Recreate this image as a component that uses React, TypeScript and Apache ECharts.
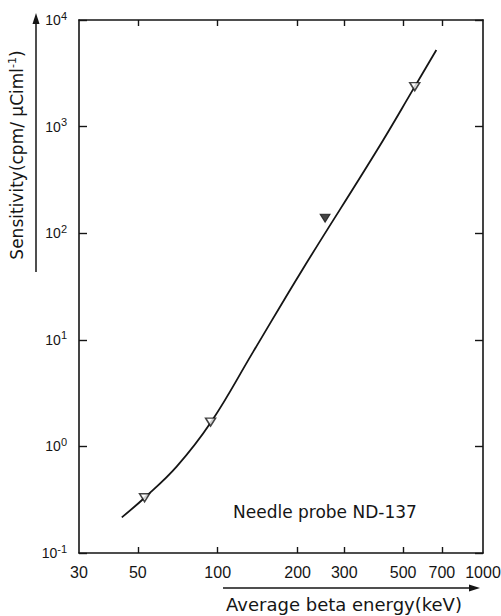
import React, { useEffect, useRef } from "react";
import * as echarts from "echarts";

// Axis tick values (keV and decades of sensitivity)
const xTickLabels = [30, 50, 100, 200, 300, 500, 700, 1000];
const xTickMarks = [50, 100, 200, 300, 500, 700];
const yMinDecade = -1;
const yMaxDecade = 4;

// Hand-drawn calibration curve
const curveEnergy = [43.5, 53, 70, 94.4, 136, 208, 399, 553, 667];
const curveSensitivity = [0.216, 0.33, 0.645, 1.69, 7.7, 45, 603, 2370, 5230];

// Measured points (open triangles)
const openEnergy = [53, 94, 553];
const openSensitivity = [0.33, 1.69, 2370];
// Measured point (filled triangle)
const filledEnergy = [254];
const filledSensitivity = [138];

const lg = (v: number) => Math.log10(v);
const INK = "#151515";

export default function App() {
  const ref = useRef<HTMLDivElement>(null);

  useEffect(() => {
    if (!ref.current) return;
    const chart = echarts.init(ref.current, undefined, { renderer: "svg" });

    const xMin = lg(30);
    const xMax = lg(1000);

    const supRich = {
      b: { fontSize: 14, fontFamily: "Liberation Sans", color: INK },
      s: { fontSize: 11, fontFamily: "Liberation Sans", color: INK, padding: [0, 0, 9, 0] },
    };

    const option: any = {
      animation: false,
      backgroundColor: "#ffffff",
      grid: { left: 79, top: 20, width: 404, height: 533, outerBoundsMode: "none", containLabel: false },
      xAxis: [
        {
          type: "value",
          position: "bottom",
          min: xMin,
          max: xMax,
          axisLine: { show: true, onZero: false, lineStyle: { color: INK, width: 1.6 } },
          axisTick: {
            show: true,
            inside: true,
            length: 6,
            customValues: xTickMarks.map(lg),
            lineStyle: { color: INK, width: 1.4 },
          },
          axisLabel: {
            show: true,
            customValues: xTickLabels.map(lg),
            formatter: (v: number) => String(Math.round(Math.pow(10, v))),
            margin: 11,
            fontSize: 16,
            fontFamily: "Liberation Sans",
            color: INK,
            hideOverlap: false,
          },
          splitLine: { show: false },
        },
        {
          type: "value",
          position: "top",
          min: xMin,
          max: xMax,
          axisLine: { show: true, onZero: false, lineStyle: { color: INK, width: 1.6 } },
          axisTick: {
            show: true,
            inside: true,
            length: 6,
            customValues: xTickMarks.map(lg),
            lineStyle: { color: INK, width: 1.4 },
          },
          axisLabel: { show: false },
          splitLine: { show: false },
        },
      ],
      yAxis: [
        {
          type: "value",
          position: "left",
          min: yMinDecade,
          max: yMaxDecade,
          interval: 1,
          axisLine: { show: true, onZero: false, lineStyle: { color: INK, width: 1.6 } },
          axisTick: { show: true, inside: true, length: 8, lineStyle: { color: INK, width: 1.4 } },
          axisLabel: {
            show: true,
            margin: 12,
            formatter: (v: number) => `{b|10}{s|${v}}`,
            rich: supRich,
          },
          splitLine: { show: false },
        },
        {
          type: "value",
          position: "right",
          min: yMinDecade,
          max: yMaxDecade,
          interval: 1,
          axisLine: { show: true, onZero: false, lineStyle: { color: INK, width: 1.6 } },
          axisTick: { show: true, inside: true, length: 8, lineStyle: { color: INK, width: 1.4 } },
          axisLabel: { show: false },
          splitLine: { show: false },
        },
      ],
      series: [
        {
          name: "Needle probe ND-137",
          type: "line",
          xAxisIndex: 0,
          yAxisIndex: 0,
          smooth: 0.4,
          showSymbol: false,
          symbol: "none",
          lineStyle: { color: INK, width: 1.8 },
          data: curveEnergy.map((e, i) => [lg(e), lg(curveSensitivity[i])]),
          z: 2,
        },
        {
          name: "measured (open)",
          type: "scatter",
          xAxisIndex: 0,
          yAxisIndex: 0,
          symbol: "triangle",
          symbolRotate: 180,
          symbolSize: [10, 8],
          itemStyle: { color: "#ffffff", borderColor: INK, borderWidth: 1.5 },
          data: openEnergy.map((e, i) => [lg(e), lg(openSensitivity[i])]),
          z: 3,
        },
        {
          name: "measured (filled)",
          type: "scatter",
          xAxisIndex: 0,
          yAxisIndex: 0,
          symbol: "triangle",
          symbolRotate: 180,
          symbolSize: [10, 8],
          itemStyle: { color: INK, borderColor: INK, borderWidth: 1 },
          data: filledEnergy.map((e, i) => [lg(e), lg(filledSensitivity[i])]),
          z: 3,
        },
      ],
      graphic: [
        {
          type: "text",
          x: 17,
          y: 155,
          rotation: Math.PI / 2,
          style: {
            text: "{a|Sensitivity(cpm/ µCiml}{s|-1}{a|)}",
            align: "center",
            verticalAlign: "middle",
            rich: {
              a: { fontSize: 17, fontFamily: "DejaVu Sans", fill: INK, color: INK },
              s: { fontSize: 11, fontFamily: "DejaVu Sans", fill: INK, color: INK, padding: [0, 0, 9, 0] },
            },
          },
        },
        {
          type: "line",
          shape: { x1: 36, y1: 272, x2: 36, y2: 22 },
          style: { stroke: INK, lineWidth: 1.5 },
        },
        {
          type: "polygon",
          shape: { points: [[36, 13], [32.5, 24], [39.5, 24]] },
          style: { fill: INK },
        },
        {
          type: "line",
          shape: { x1: 223, y1: 588, x2: 470, y2: 588 },
          style: { stroke: INK, lineWidth: 1.5 },
        },
        {
          type: "polygon",
          shape: { points: [[480, 588], [469, 584.5], [469, 591.5]] },
          style: { fill: INK },
        },
        {
          type: "text",
          x: 344,
          y: 604,
          style: {
            text: "Average beta energy(keV)",
            align: "center",
            verticalAlign: "middle",
            fontSize: 18,
            fontFamily: "DejaVu Sans",
            fill: INK,
          },
        },
        {
          type: "text",
          x: 233,
          y: 512,
          style: {
            text: "Needle probe ND-137",
            align: "left",
            verticalAlign: "middle",
            fontSize: 17,
            fontFamily: "DejaVu Sans",
            fill: INK,
          },
        },
      ],
    };

    chart.setOption(option);
    return () => chart.dispose();
  }, []);

  return (
    <div
      ref={ref}
      style={{ position: "absolute", left: 0, top: 0, width: 501, height: 616, background: "#fff" }}
    />
  );
}
